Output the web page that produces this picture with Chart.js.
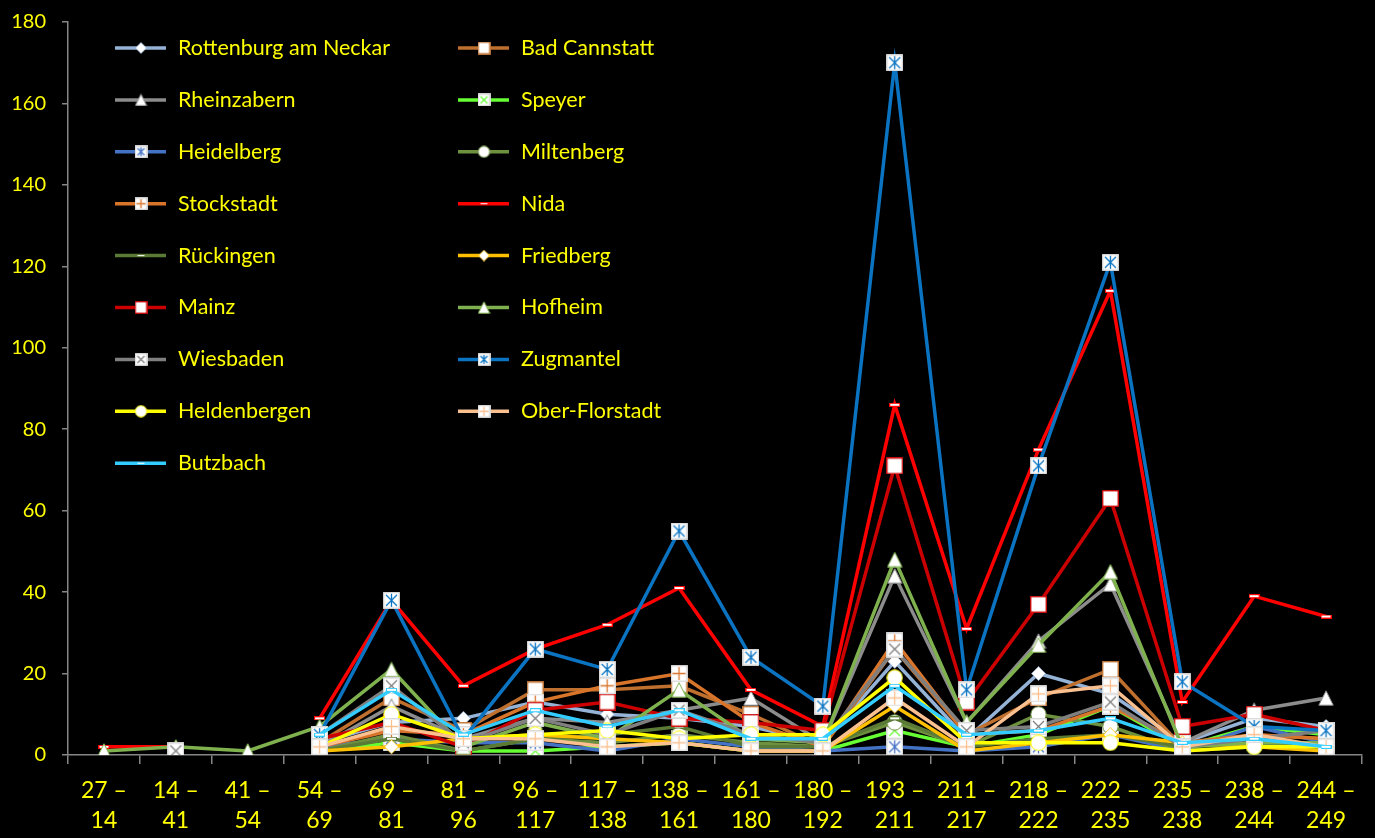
<!DOCTYPE html>
<html>
<head>
<meta charset="utf-8">
<script src="https://cdn.jsdelivr.net/npm/chart.js@4.4.0/dist/chart.umd.min.js"></script>
<style>
  html, body { margin: 0; padding: 0; background: #000; }
  #wrap { width: 1375px; height: 838px; position: relative; }
</style>
</head>
<body>
<div id="wrap"><canvas id="chart"></canvas></div>
<script>
// categories (two line labels)
var categories = [
  ['27 –', '14'], ['14 –', '41'], ['41 –', '54'], ['54 –', '69'], ['69 –', '81'], ['81 –', '96'],
  ['96 –', '117'], ['117 –', '138'], ['138 –', '161'], ['161 –', '180'], ['180 –', '192'], ['193 –', '211'],
  ['211 –', '217'], ['218 –', '222'], ['222 –', '235'], ['235 –', '238'], ['238 –', '244'], ['244 –', '249']
];

// series values
var rottenburg    = [null, null, null, 3, 8, 9, 13, 10, 9, 7, 3, 23, 4, 20, 15, 3, 9, 7];
var badCannstatt  = [null, null, null, 3, 14, 6, 16, 16, 17, 10, 2, 26, 5, 14, 21, 2, 5, 4];
var rheinzabern   = [null, null, null, 2, 12, 4, 9, 8, 11, 14, 3, 44, 8, 28, 42, 3, 11, 14];
var speyer        = [null, null, null, 1, 3, 1, 1, 2, 3, 1, 1, 6, 2, 5, 12, 2, 7, 5];
var heidelberg    = [null, null, null, 2, 4, 3, 3, 1, 4, 2, 1, 2, 1, 2, 5, 1, 7, 3];
var miltenberg    = [null, null, null, 1, 5, 1, 4, 3, 5, 3, 2, 8, 2, 10, 7, 1, 2, 2];
var stockstadt    = [null, null, null, 2, 6, 5, 13, 17, 20, 8, 2, 28, 5, 6, 12, 3, 5, 4];
var nida          = [2, 2, null, 9, 38, 17, 26, 32, 41, 16, 7, 86, 31, 75, 114, 13, 39, 34];
var rueckingen    = [null, null, null, 1, 4, 1, 4, 5, 7, 2, 2, 9, 2, 4, 5, 2, 3, 2];
var friedberg     = [null, null, null, 1, 2, 4, 5, 4, 3, 1, 1, 12, 1, 3, 5, 3, 2, 1];
var mainz         = [null, null, null, 4, 8, 2, 11, 13, 9, 8, 6, 71, 13, 37, 63, 7, 10, 6];
var hofheim       = [1, 2, 1, 7, 21, 2, 8, 4, 16, 4, 3, 48, 8, 27, 45, 2, 3, 3];
var wiesbaden     = [null, 1, null, 5, 17, 3, 9, 5, 11, 5, 3, 26, 6, 7, 13, 2, 4, 6];
var zugmantel     = [null, null, null, 5, 38, 4, 26, 21, 55, 24, 12, 170, 16, 71, 121, 18, 7, 6];
var heldenbergen  = [null, null, null, 2, 10, 4, 5, 6, 4, 5, 5, 19, 3, 3, 3, 1, 2, 2];
var oberFlorstadt = [null, null, null, 2, 7, 4, 4, 2, 3, 1, 1, 14, 2, 15, 17, 2, 5, 2];
var butzbach      = [null, null, null, 5, 16, 5, 11, 7, 11, 4, 4, 17, 5, 6, 9, 3, 4, 2];

var seriesNames = ['Rottenburg am Neckar', 'Bad Cannstatt', 'Rheinzabern', 'Speyer', 'Heidelberg',
  'Miltenberg', 'Stockstadt', 'Nida', 'Rückingen', 'Friedberg', 'Mainz', 'Hofheim', 'Wiesbaden',
  'Zugmantel', 'Heldenbergen', 'Ober-Florstadt', 'Butzbach'];
var seriesData = [rottenburg, badCannstatt, rheinzabern, speyer, heidelberg, miltenberg, stockstadt,
  nida, rueckingen, friedberg, mainz, hofheim, wiesbaden, zugmantel, heldenbergen, oberFlorstadt, butzbach];
var seriesColors = ['#95B3D7', '#C0702E', '#8C8C8C', '#66FF33', '#4472C4', '#6E9140', '#D9752B',
  '#FF0000', '#5A7A35', '#FFC000', '#CC0000', '#7FB24F', '#7F7F7F', '#0B74C2', '#FFFF00', '#FAC090', '#33CCFF'];
var seriesMarkers = ['diamond', 'square', 'triangle', 'squareX', 'squareStar', 'circle', 'squarePlus',
  'dash', 'dash', 'diamond', 'square', 'triangle', 'squareX', 'squareStar', 'circle', 'squarePlus', 'dash'];

var yellow = '#FFFF00';
var fontName = 'Lato, "Open Sans", sans-serif';

// small canvases used as point styles
function makeMarker(kind, color, s) {
  var c = document.createElement('canvas');
  var h = kind == 'dash' ? Math.round(s * 0.35) : s;
  c.width = s; c.height = h;
  var g = c.getContext('2d');
  var m = s / 2;
  g.lineWidth = 1.3;
  g.fillStyle = '#fff';
  g.strokeStyle = color;
  if (kind == 'square' || kind == 'squareX' || kind == 'squarePlus' || kind == 'squareStar') {
    g.fillRect(0.5, 0.5, s - 1, s - 1);
    g.strokeStyle = kind == 'square' ? color : '#d8d8d8';
    g.strokeRect(0.75, 0.75, s - 1.5, s - 1.5);
    g.strokeStyle = color;
    g.beginPath();
    if (kind == 'squareX' || kind == 'squareStar') {
      g.moveTo(3, 3); g.lineTo(s - 3, s - 3);
      g.moveTo(s - 3, 3); g.lineTo(3, s - 3);
    }
    if (kind == 'squarePlus') {
      g.moveTo(m, 2); g.lineTo(m, s - 2);
      g.moveTo(2, m); g.lineTo(s - 2, m);
    }
    if (kind == 'squareStar') {
      g.moveTo(m, 2); g.lineTo(m, s - 2);
    }
    g.stroke();
  } else if (kind == 'diamond') {
    g.beginPath();
    g.moveTo(m, 0.5); g.lineTo(s - 0.5, m); g.lineTo(m, s - 0.5); g.lineTo(0.5, m); g.closePath();
    g.fill(); g.lineWidth = 0.8; g.stroke();
  } else if (kind == 'triangle') {
    g.beginPath();
    g.moveTo(m, 0.8); g.lineTo(s - 0.8, s - 0.8); g.lineTo(0.8, s - 0.8); g.closePath();
    g.fill(); g.lineWidth = 1; g.stroke();
  } else if (kind == 'circle') {
    g.beginPath();
    g.arc(m, m, m - 0.8, 0, Math.PI * 2);
    g.fill(); g.lineWidth = 1; g.stroke();
  } else if (kind == 'dash') {
    g.fillRect(0.5, 0.5, s - 1, h - 1);
    g.lineWidth = 1;
    g.strokeRect(0.5, 0.5, s - 1, h - 1);
  }
  return c;
}

var pointSizes = { diamond: 15, square: 17, squareX: 17, squarePlus: 17, squareStar: 17, triangle: 16, circle: 17, dash: 11 };
var legendSizes = { diamond: 12, square: 13, squareX: 13, squarePlus: 13, squareStar: 13, triangle: 13, circle: 13, dash: 9 };

var datasets = [];
for (var i = 0; i < seriesNames.length; i++) {
  var kind = seriesMarkers[i];
  datasets.push({
    label: seriesNames[i],
    data: seriesData[i],
    borderColor: seriesColors[i],
    backgroundColor: seriesColors[i],
    borderWidth: 3.5,
    tension: 0,
    spanGaps: false,
    pointStyle: makeMarker(kind, seriesColors[i], pointSizes[kind]),
    legendMarker: makeMarker(kind, seriesColors[i], legendSizes[kind]),
    pointRadius: 6,
    pointHoverRadius: 6,
    order: seriesNames.length - i
  });
}

// two column legend drawn inside the plot
var columnLegend = {
  id: 'columnLegend',
  afterDraw: function(chart) {
    var ctx = chart.ctx;
    var ds = chart.data.datasets;
    ctx.save();
    ctx.font = '21.5px ' + fontName;
    ctx.textBaseline = 'middle';
    for (var i = 0; i < ds.length; i++) {
      var col = i % 2, row = Math.floor(i / 2);
      var x0 = col == 0 ? 115 : 458;
      var y = 48 + row * 51.9;
      ctx.strokeStyle = ds[i].borderColor;
      ctx.lineWidth = 3.5;
      ctx.beginPath();
      ctx.moveTo(x0, y); ctx.lineTo(x0 + 51, y);
      ctx.stroke();
      var mk = ds[i].legendMarker;
      ctx.drawImage(mk, x0 + 26 - mk.width / 2, y - mk.height / 2);
      ctx.fillStyle = yellow;
      ctx.fillText(ds[i].label, x0 + 63, y);
    }
    ctx.restore();
  }
};

var blackBg = {
  id: 'blackBg',
  beforeDraw: function(chart) {
    var ctx = chart.ctx;
    ctx.save();
    ctx.fillStyle = '#000';
    ctx.fillRect(0, 0, chart.width, chart.height);
    ctx.restore();
  }
};

var chart = new Chart(document.getElementById('chart'), {
  type: 'line',
  data: { labels: categories, datasets: datasets },
  options: {
    responsive: true,
    maintainAspectRatio: false,
    animation: false,
    layout: { padding: { top: 22, right: 13, left: 0, bottom: 0 } },
    plugins: {
      legend: { display: false },
      tooltip: { enabled: false }
    },
    scales: {
      x: {
        offset: true,
        grid: { offset: true, drawOnChartArea: false, color: '#868686', tickLength: 9, lineWidth: 1.5 },
        border: { color: '#868686', width: 1.5 },
        ticks: {
          color: yellow,
          font: { family: fontName, size: 23, lineHeight: 1.3 },
          padding: 12,
          maxRotation: 0,
          autoSkip: false
        },
        afterFit: function(scale) { scale.height = 83; scale.paddingLeft = 0; scale.paddingRight = 0; }
      },
      y: {
        min: 0,
        max: 180,
        grid: { drawOnChartArea: false, color: '#868686', tickLength: 6, lineWidth: 1.5 },
        border: { color: '#868686', width: 1.5 },
        ticks: {
          stepSize: 20,
          color: yellow,
          font: { family: fontName, size: 20 },
          padding: 16
        },
        afterFit: function(scale) { scale.width = 68; scale.paddingTop = 0; scale.paddingBottom = 0; }
      }
    }
  },
  plugins: [blackBg, columnLegend]
});
</script>
</body>
</html>
